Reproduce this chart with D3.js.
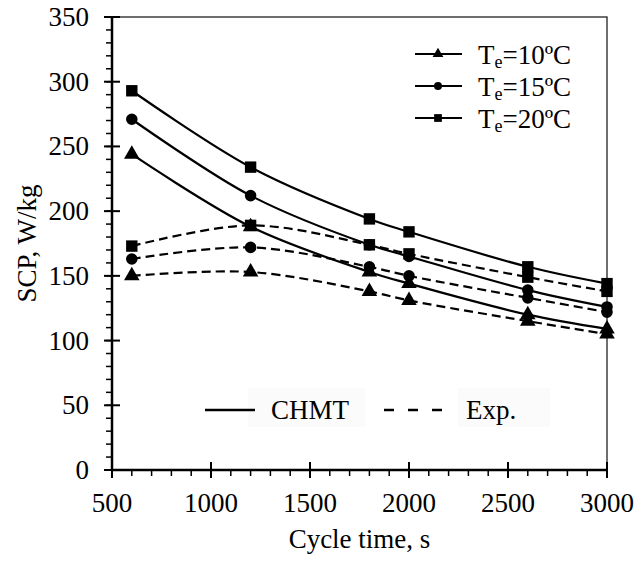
<!DOCTYPE html>
<html lang='en'>
<head>
  <title>SCP vs cycle time</title>
  <script src='https://cdn.jsdelivr.net/npm/d3@7/dist/d3.min.js'></script>
  <style>
    body { margin: 0; background: white; }
    text { font-family: "Liberation Serif", "Times New Roman", serif; fill: black; }
  </style>
</head>
<body>
  <script>
    // data
    let cycleTime = [600, 1200, 1800, 2000, 2600, 3000];
    let chmt10 = [244, 188, 153, 144, 120, 109];
    let chmt15 = [271, 212, 174, 165, 139, 126];
    let chmt20 = [293, 234, 194, 184, 157, 144];
    let exp10 = [150, 153, 138, 131, 115, 105];
    let exp15 = [163, 172, 157, 150, 133, 122];
    let exp20 = [173, 189, 174, 167, 149, 138];
    let xTicks = [500, 1000, 1500, 2000, 2500, 3000];
    let yTicks = [0, 50, 100, 150, 200, 250, 300, 350];
    let tempLabels = ["10", "15", "20"];

    let width = 636, height = 561;
    let margins = { left: 112, top: 17, right: 29, bottom: 91 };

    let svg = d3.select("body").append("svg")
      .attr("width", width)
      .attr("height", height);

    let x = d3.scaleLinear().domain([500, 3000]).range([margins.left, width - margins.right]);
    let y = d3.scaleLinear().domain([0, 350]).range([height - margins.bottom, margins.top]);

    // thin frame top/right
    svg.append("rect")
      .attr("x", x(500)).attr("y", y(350))
      .attr("width", x(3000) - x(500)).attr("height", y(0) - y(350))
      .attr("fill", "none").attr("stroke", "#222").attr("stroke-width", 1.3);

    // minor ticks
    let minorX = d3.range(500, 3001, 100);
    let minorY = d3.range(0, 351, 10);
    svg.append("g").selectAll("line").data(minorX).join("line")
      .attr("x1", d => x(d)).attr("x2", d => x(d))
      .attr("y1", y(0)).attr("y2", y(0) + 6)
      .attr("stroke", "black").attr("stroke-width", 1.5);
    svg.append("g").selectAll("line").data(minorY).join("line")
      .attr("x1", x(500) - 6).attr("x2", x(500))
      .attr("y1", d => y(d)).attr("y2", d => y(d))
      .attr("stroke", "black").attr("stroke-width", 1.5);

    // major ticks crossing the axis
    svg.append("g").selectAll("line").data(xTicks).join("line")
      .attr("x1", d => x(d)).attr("x2", d => x(d))
      .attr("y1", y(0) - 8).attr("y2", y(0) + 8)
      .attr("stroke", "black").attr("stroke-width", 2);
    svg.append("g").selectAll("line").data(yTicks).join("line")
      .attr("x1", x(500) - 8).attr("x2", x(500) + 8)
      .attr("y1", d => y(d)).attr("y2", d => y(d))
      .attr("stroke", "black").attr("stroke-width", 2);

    // axis lines
    svg.append("line")
      .attr("x1", x(500)).attr("x2", x(3000)).attr("y1", y(0)).attr("y2", y(0))
      .attr("stroke", "black").attr("stroke-width", 2.5);
    svg.append("line")
      .attr("x1", x(500)).attr("x2", x(500)).attr("y1", y(0)).attr("y2", y(350))
      .attr("stroke", "black").attr("stroke-width", 2.5);

    // tick labels
    svg.append("g").selectAll("text").data(xTicks).join("text")
      .attr("x", d => x(d)).attr("y", y(0) + 42)
      .attr("text-anchor", "middle").attr("font-size", 27)
      .text(d => d);
    svg.append("g").selectAll("text").data(yTicks).join("text")
      .attr("x", x(500) - 23).attr("y", d => y(d) + 9)
      .attr("text-anchor", "end").attr("font-size", 27)
      .text(d => d);

    // axis titles
    svg.append("text")
      .attr("x", x(1750)).attr("y", 548)
      .attr("text-anchor", "middle").attr("font-size", 27)
      .text("Cycle time, s");
    svg.append("text")
      .attr("transform", `translate(36, ${y(175)}) rotate(-90)`)
      .attr("text-anchor", "middle").attr("font-size", 27)
      .text("SCP, W/kg");

    // series
    let dashed = "9,5";
    let series = [
      { vals: chmt10, shape: "tri", dash: null },
      { vals: chmt15, shape: "circ", dash: null },
      { vals: chmt20, shape: "sq", dash: null },
      { vals: exp10, shape: "tri", dash: dashed },
      { vals: exp15, shape: "circ", dash: dashed },
      { vals: exp20, shape: "sq", dash: dashed }
    ];

    let line = d3.line()
      .x((d, i) => x(cycleTime[i]))
      .y(d => y(d))
      .curve(d3.curveCatmullRom.alpha(0.5));

    svg.append("g").selectAll("path").data(series).join("path")
      .attr("d", d => line(d.vals))
      .attr("fill", "none").attr("stroke", "black").attr("stroke-width", 2.2)
      .attr("stroke-dasharray", d => d.dash);

    let symbolType = { tri: d3.symbolTriangle, circ: d3.symbolCircle, sq: d3.symbolSquare };
    let symbolSize = { tri: 105, circ: 105, sq: 130 };

    series.forEach(s => {
      svg.append("g").selectAll("path").data(s.vals).join("path")
        .attr("transform", (d, i) => `translate(${x(cycleTime[i])}, ${y(d)})`)
        .attr("d", d3.symbol(symbolType[s.shape], symbolSize[s.shape]))
        .attr("fill", "black");
    });

    // temperature legend
    let shapes = ["tri", "circ", "sq"];
    let legend = svg.append("g");
    tempLabels.forEach((t, i) => {
      let ly = 54 + i * 32;
      legend.append("line")
        .attr("x1", 415).attr("x2", 462).attr("y1", ly).attr("y2", ly)
        .attr("stroke", "black").attr("stroke-width", 2.2);
      legend.append("path")
        .attr("transform", `translate(438, ${ly})`)
        .attr("d", d3.symbol(symbolType[shapes[i]], shapes[i] === "sq" ? 60 : 50))
        .attr("fill", "black");
      let txt = legend.append("text")
        .attr("x", 478).attr("y", ly + 10).attr("font-size", 27);
      txt.append("tspan").text("T");
      txt.append("tspan").attr("font-size", 18).attr("dy", 4).text("e");
      txt.append("tspan").attr("dy", -4).text(`=${t}ºC`);
    });

    // line style legend
    let styleLegend = svg.append("g");
    styleLegend.append("rect")
      .attr("x", 248).attr("y", 388).attr("width", 117).attr("height", 39)
      .attr("fill", "#fbfbfb");
    styleLegend.append("rect")
      .attr("x", 458).attr("y", 388).attr("width", 92).attr("height", 39)
      .attr("fill", "#fbfbfb");
    styleLegend.append("line")
      .attr("x1", 205).attr("x2", 255).attr("y1", 410).attr("y2", 410)
      .attr("stroke", "black").attr("stroke-width", 2.5);
    styleLegend.append("text")
      .attr("x", 271).attr("y", 419).attr("font-size", 27).text("CHMT");
    styleLegend.append("line")
      .attr("x1", 384).attr("x2", 444).attr("y1", 410).attr("y2", 410)
      .attr("stroke", "black").attr("stroke-width", 2.5)
      .attr("stroke-dasharray", "10,14");
    styleLegend.append("text")
      .attr("x", 466).attr("y", 419).attr("font-size", 27).text("Exp.");
  </script>
</body>
</html>
